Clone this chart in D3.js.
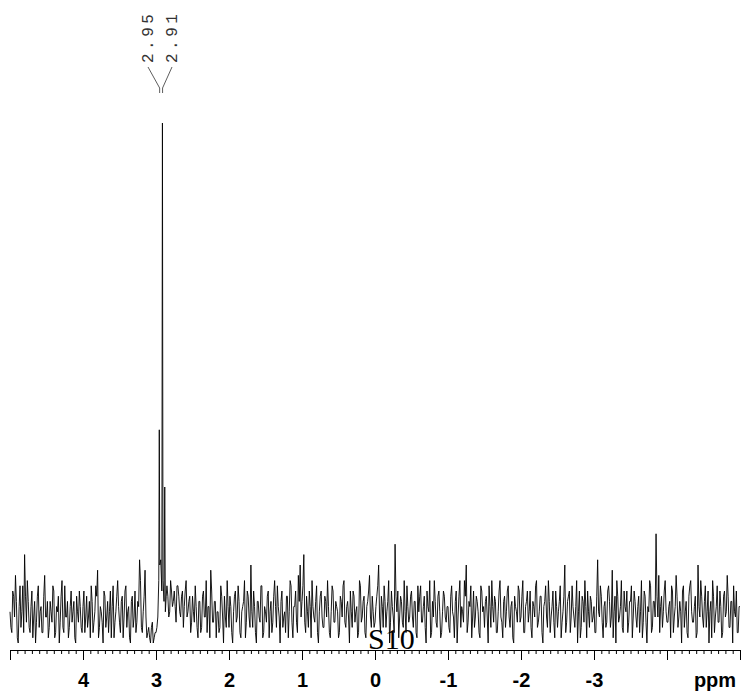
<!DOCTYPE html>
<html>
<head>
<meta charset="utf-8">
<script src="https://cdn.jsdelivr.net/npm/d3@7"></script>
<style>
  body { margin: 0; background: #fff; }
  svg { display: block; }
</style>
</head>
<body>
<div id="chart"></div>
<script>
// spectrum grid: 5 ppm down to -5 ppm, step 0.025 (plus half-step samples)
var ppmStart = 5;
var ppmStep = 0.025;

// baseline noise on the whole steps (arbitrary units, main peak = 100)
var noise = [
  6,2,9,13,1,7,3,11,17,4,8,2,10,5,0,9,3,7,2,13,
  5,1,8,4,10,2,6,0,9,3,11,5,1,7,4,8,0,6,10,3,
  7,2,9,5,1,8,4,11,14,3,6,0,9,5,2,10,7,1,6,12,
  4,8,1,10,3,7,0,9,5,2,8,16,3,6,14,1,3,0,4,1,
  2,9,12,12,10,6,11,5,12,7,10,4,11,6,9,3,10,5,8,2,
  9,4,7,1,8,3,10,5,2,7,14,4,8,1,6,3,9,0,5,12,
  3,7,0,9,4,11,2,6,8,1,10,5,15,3,7,0,8,4,11,2,
  6,9,1,8,4,12,3,7,0,10,5,2,9,6,11,1,7,4,13,15,
  8,17,2,6,10,1,7,4,11,0,9,5,3,8,12,2,6,10,4,7,
  1,9,5,12,3,8,0,6,10,4,7,2,11,5,9,1,8,13,3,6,
  4,9,15,2,7,11,3,8,0,10,5,19,6,1,9,4,12,2,7,5,
  10,3,8,1,6,11,4,9,0,7,12,2,5,8,3,10,1,6,9,4,
  7,2,11,5,8,0,9,3,6,12,15,4,7,1,10,5,8,2,11,6,
  3,9,0,7,12,4,8,2,10,5,1,9,6,11,3,8,0,7,4,10,
  5,12,2,8,4,10,1,7,11,3,6,9,0,8,5,12,2,7,4,10,
  3,8,1,6,15,4,9,2,11,5,7,0,10,3,8,12,1,6,9,4,
  7,2,16,5,9,1,8,4,11,3,14,6,0,9,5,12,2,7,10,4,
  8,1,10,5,7,2,12,4,9,0,6,11,3,8,21,5,2,9,6,12,
  4,7,1,10,5,13,3,8,0,11,6,2,9,12,4,7,1,15,5,9,
  3,11,6,0,8,12,2,7,4,10,1,9,5,13,3,8,0,6,10,2,7
];

// baseline noise on the half steps (4.9875, 4.9625, ...)
var noiseHalf = [
  3,10,5,8,0,11,6,2,9,12,3,7,1,8,4,11,6,2,9,5,
  8,3,6,11,1,7,9,4,12,2,5,8,3,10,6,1,9,4,7,2,
  10,5,3,8,11,2,6,9,1,7,4,10,3,8,6,1,11,4,9,7,
  2,9,5,11,6,1,8,3,10,4,7,12,2,9,5,2,1,3,0,2,
  3,8,9,10,7,8,9,6,10,8,7,11,9,5,10,7,12,6,9,4,
  6,11,3,8,2,9,5,12,7,1,10,4,8,6,2,11,5,9,3,7,
  9,2,6,10,5,8,1,7,12,4,9,3,6,10,2,8,5,11,1,7,
  4,10,6,2,9,7,11,5,8,3,6,9,1,12,4,7,10,2,8,5,
  11,4,9,3,7,12,5,8,2,6,10,3,9,5,7,1,11,4,8,6,
  2,8,11,4,7,5,10,3,9,6,1,12,4,8,2,7,10,5,9,3,
  7,11,5,9,3,8,6,12,4,7,2,9,10,5,8,3,6,11,4,9,
  5,8,2,11,9,4,7,3,10,6,1,8,12,4,9,6,2,10,5,7,
  3,9,6,1,10,5,12,7,4,9,2,8,11,5,3,9,6,1,10,7,
  8,5,11,3,7,9,2,6,12,4,8,3,10,5,7,1,9,6,11,4,
  9,2,7,10,6,3,8,5,12,4,9,2,7,11,3,8,5,10,1,7,
  6,11,4,9,2,8,10,5,7,3,12,6,1,9,4,7,10,3,8,5,
  2,9,6,11,4,7,3,10,8,5,1,9,12,4,7,3,10,6,2,8,
  11,5,8,3,9,6,1,10,4,7,12,2,8,5,9,13,7,3,10,6,
  4,8,11,2,7,9,5,6,10,3,8,1,11,6,4,9,2,7,12,5,
  8,3,10,6,1,9,5,11,4,7,2,10,6,9,3,8,11,5,2,7
];

// the signal near 2.9 ppm
var peakPpm = [2.975, 2.962, 2.955, 2.948, 2.935, 2.920, 2.912, 2.904, 2.890, 2.880, 2.872, 2.860];
var peakVal = [5, 12, 41, 15, 16, 10, 100, 12, 8, 30, 6, 9];

// labelled peaks
var peakLabels = ["2.95", "2.91"];
var peakLabelPpm = [2.95, 2.91];

// axis
var majorTicks = [5, 4, 3, 2, 1, 0, -1, -2, -3, -4, -5];
var tickLabels = {"4": "4", "3": "3", "2": "2", "1": "1", "0": "0", "-1": "-1", "-2": "-2", "-3": "-3"};

var svgWidth = 743;
var svgHeight = 695;

var svg = d3.select("#chart")
  .append("svg")
  .attr("width", svgWidth)
  .attr("height", svgHeight);

var xScale = d3.scaleLinear().domain([5, -5]).range([10, 740]);
var yScale = d3.scaleLinear().domain([0, 100]).range([643, 123]);

// build the spectrum points
var pts = noise.map(function(v, i) {
  return {ppm: ppmStart - i * ppmStep, v: v};
}).concat(noiseHalf.map(function(v, i) {
  return {ppm: ppmStart - ppmStep / 2 - i * ppmStep, v: v};
})).filter(function(d) { return d.ppm > 2.98 || d.ppm < 2.855; });
peakPpm.forEach(function(p, i) { pts.push({ppm: p, v: peakVal[i]}); });
pts.sort(function(a, b) { return b.ppm - a.ppm; });

var line = d3.line()
  .x(d => xScale(d.ppm))
  .y(d => yScale(d.v));

svg.append("path")
  .datum(pts)
  .attr("d", line)
  .attr("fill", "none")
  .attr("stroke", "#000")
  .attr("stroke-width", 0.9);

// axes: minor ticks every 0.1 ppm, major every ppm
var axisY = 650;
var minorAxis = d3.axisBottom(xScale)
  .tickValues(d3.range(-50, 51).map(k => k / 10))
  .tickSize(4)
  .tickSizeOuter(0)
  .tickFormat("");

svg.append("g")
  .attr("transform", `translate(0, ${axisY})`)
  .call(minorAxis)
  .call(g => g.select(".domain").attr("stroke", "#000"));

var majorAxis = d3.axisBottom(xScale)
  .tickValues(majorTicks)
  .tickSize(10)
  .tickSizeOuter(0)
  .tickPadding(13)
  .tickFormat(d => tickLabels[String(d)] || "");

svg.append("g")
  .attr("transform", `translate(0, ${axisY})`)
  .call(majorAxis)
  .call(g => g.select(".domain").remove())
  .selectAll("text")
  .attr("font-family", "Liberation Sans, Arial, sans-serif")
  .attr("font-weight", "bold")
  .attr("font-size", 20)
  .attr("fill", "#000");

svg.append("text")
  .attr("x", 715)
  .attr("y", 687)
  .attr("text-anchor", "middle")
  .attr("font-family", "Liberation Sans, Arial, sans-serif")
  .attr("font-weight", "bold")
  .attr("font-size", 20)
  .text("ppm");

// sample name
svg.append("text")
  .attr("x", 368)
  .attr("y", 649)
  .attr("font-family", "Liberation Serif, Times New Roman, serif")
  .attr("font-size", 30)
  .text("S10");

// peak labels with connectors
var labelX = [153, 177];
var labelG = svg.append("g");
peakLabels.forEach(function(t, i) {
  labelG.append("text")
    .attr("transform", `translate(${labelX[i]}, 63) rotate(-90)`)
    .attr("font-family", "Liberation Mono, DejaVu Sans Mono, monospace")
    .attr("font-size", 16)
    .attr("letter-spacing", 3.5)
    .attr("fill", "#333")
    .text(t);
  var px = xScale(peakLabelPpm[i]);
  labelG.append("path")
    .attr("d", `M${labelX[i] - 5},67 L${px},88 L${px},93`)
    .attr("fill", "none")
    .attr("stroke", "#333")
    .attr("stroke-width", 0.8);
});
</script>
</body>
</html>
